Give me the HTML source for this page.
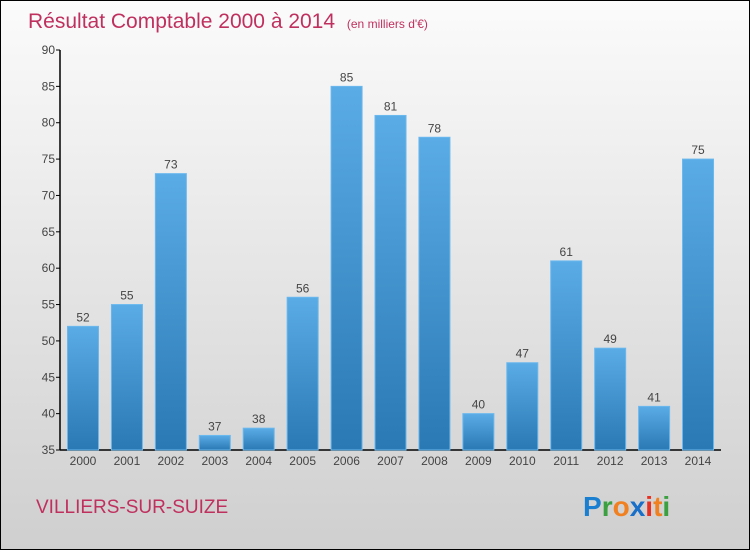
<!DOCTYPE html>
<html><head><meta charset="utf-8"><style>
html,body{margin:0;padding:0}
body{width:750px;height:550px;overflow:hidden;font-family:"Liberation Sans",sans-serif}
</style></head><body>
<svg width="750" height="550">
<defs>
<linearGradient id="bg" x1="0" y1="0" x2="0" y2="1"><stop offset="0" stop-color="#fbfbfb"/><stop offset="1" stop-color="#cfcfcf"/></linearGradient>
<linearGradient id="bar" x1="0" y1="0" x2="0" y2="1"><stop offset="0" stop-color="#5aace6"/><stop offset="1" stop-color="#2a78b4"/></linearGradient>
</defs>
<rect x="0.5" y="0.5" width="749" height="549" fill="url(#bg)" stroke="#000"/>
<text x="28" y="28" font-size="21" fill="#c0305f">Résultat Comptable 2000 à 2014 <tspan font-size="12" dx="6">(en milliers d'€)</tspan></text>
<g id="axes"></g>
<g id="bars"></g>
<text x="36" y="513" font-size="19" fill="#c0305f">VILLIERS-SUR-SUIZE</text>
<g font-size="28" font-weight="bold" font-family="Liberation Sans, sans-serif">
<text x="583" y="516"><tspan fill="#1a7fd0">P</tspan><tspan fill="#3aa040">r</tspan><tspan fill="#f08020">o</tspan><tspan fill="#1a6fc8">x</tspan><tspan fill="#e83020">i</tspan><tspan fill="#f08020">t</tspan><tspan fill="#3aa040">i</tspan></text>
</g>
</svg>
<script>
const years=["2000","2001","2002","2003","2004","2005","2006","2007","2008","2009","2010","2011","2012","2013","2014"];
const values=[52,55,73,37,38,56,85,81,78,40,47,61,49,41,75];
const yTicks=[35,40,45,50,55,60,65,70,75,80,85,90];
const NS="http://www.w3.org/2000/svg";
const y0=450,y1=50,vmin=35,vmax=90,x0=83,step=43.93,bw=31;
function yS(v){return y0-(v-vmin)/(vmax-vmin)*(y0-y1);}
function xS(i){return x0+i*step;}
function mk(t,a,p){const e=document.createElementNS(NS,t);for(const k in a)e.setAttribute(k,a[k]);p.appendChild(e);return e;}
const ax=document.getElementById('axes'),bg=document.getElementById('bars');
let l=mk('line',{x1:60,y1:y1,x2:60,y2:y0,stroke:'#000','stroke-width':1.5},ax);


l=mk('line',{x1:60,y1:y0,x2:721,y2:y0,stroke:'#000','stroke-width':1.5},ax);


yTicks.forEach(v=>{const y=yS(v);
 const t=mk('line',{x1:56,y1:y,x2:60,y2:y,stroke:'#000'},ax);
 
 
 const tx=mk('text',{x:55,y:y+4,'text-anchor':'end','font-size':12,fill:'#444'},ax);tx.textContent=v;
 
 
});
values.forEach((v,i)=>{const cx=xS(i),y=yS(v);
 const r=mk('rect',{x:cx-bw/2,y:y,width:bw,height:y0-y,fill:'url(#bar)',stroke:'#6ab8ee','stroke-width':1},bg);
 
 
 const t=mk('text',{x:cx,y:y-5,'text-anchor':'middle','font-size':12,fill:'#444'},bg);t.textContent=v;
 
 
 const xl=mk('text',{x:cx,y:465,'text-anchor':'middle','font-size':12,fill:'#444'},bg);xl.textContent=years[i];
 
 
});
</script>
</body></html>
